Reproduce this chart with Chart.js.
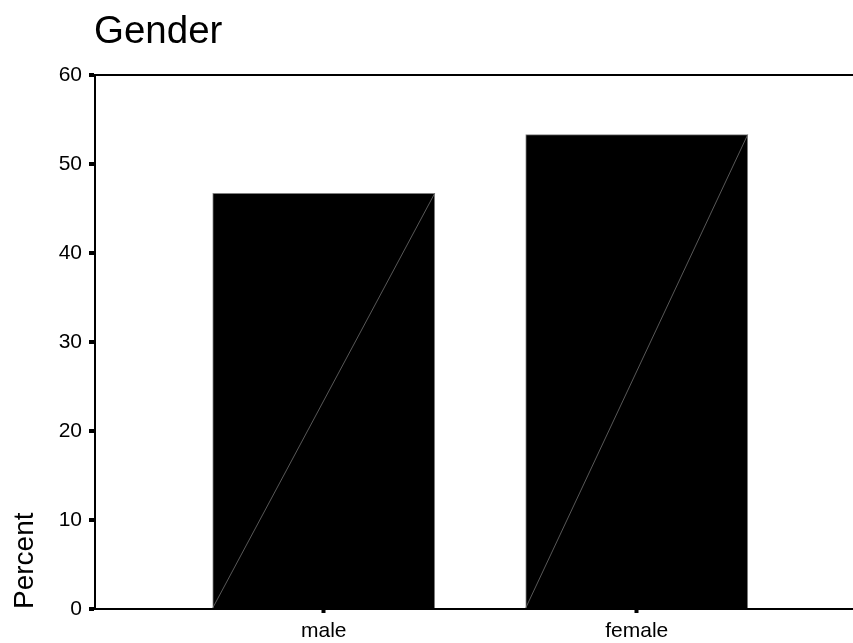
<!DOCTYPE html>
<html>
<head>
<meta charset="utf-8">
<title>Gender</title>
<script src="https://cdn.jsdelivr.net/npm/chart.js@4/dist/chart.umd.min.js"></script>
<style>
  html, body { margin: 0; padding: 0; background: #fff; }
  #wrap { width: 853px; height: 643px; }
</style>
</head>
<body>
<div id="wrap"><canvas id="chart" width="853" height="643"></canvas></div>
<script>
// Gender distribution, percent of respondents
const categories = ['male', 'female'];
const categoryPositions = [1, 2];
const percentValues = [46.7, 53.3];
const yTicks = [0, 10, 20, 30, 40, 50, 60];

const FONT = '"Liberation Sans", Arial, sans-serif';

// Title drawn at the left edge of the plot area
const titlePlugin = {
  id: 'leftTitle',
  afterDraw(chart) {
    const ctx = chart.ctx;
    ctx.save();
    ctx.font = '38.5px ' + FONT;
    ctx.fillStyle = '#000';
    ctx.textBaseline = 'alphabetic';
    ctx.textAlign = 'left';
    ctx.fillText('Gender', chart.chartArea.left - 1, 43);
    ctx.restore();
  }
};

// Thin diagonal stroke across each bar, lower-left to upper-right
const diagonalPlugin = {
  id: 'barDiagonal',
  afterDatasetsDraw(chart) {
    const ctx = chart.ctx;
    ctx.save();
    ctx.strokeStyle = '#6e6e6e';
    ctx.lineWidth = 0.8;
    chart.getDatasetMeta(0).data.forEach(bar => {
      const p = bar.getProps(['x', 'y', 'base', 'width'], true);
      ctx.beginPath();
      ctx.moveTo(p.x - p.width / 2, p.base);
      ctx.lineTo(p.x + p.width / 2, p.y);
      ctx.stroke();
    });
    ctx.restore();
  }
};

new Chart(document.getElementById('chart'), {
  type: 'bar',
  data: {
    datasets: [{
      label: 'Percent',
      data: categoryPositions.map((x, i) => ({ x: x, y: percentValues[i] })),
      backgroundColor: '#000',
      borderColor: '#808080',
      borderWidth: 1,
      barThickness: 222
    }]
  },
  options: {
    responsive: false,
    animation: false,
    devicePixelRatio: 1,
    layout: { padding: { top: 75, right: 0, left: 0, bottom: 0 } },
    plugins: {
      legend: { display: false },
      tooltip: { enabled: false },
      title: { display: false }
    },
    scales: {
      x: {
        type: 'linear',
        offset: false,
        min: 0.2693,
        max: 2.691,
        afterBuildTicks: scale => { scale.ticks = categoryPositions.map(v => ({ value: v })); },
        afterFit: scale => { scale.height = 34; },
        ticks: {
          autoSkip: false,
          maxRotation: 0,
          color: '#000',
          font: { family: FONT, size: 21 },
          padding: 6,
          callback: v => categories[categoryPositions.indexOf(v)] ?? ''
        },
        grid: {
          offset: false,
          drawOnChartArea: false,
          drawTicks: true,
          tickLength: 4,
          tickWidth: 4,
          tickColor: '#000'
        },
        border: { display: true, color: '#000', width: 2 }
      },
      y: {
        min: 0,
        max: 60,
        afterBuildTicks: scale => { scale.ticks = yTicks.map(v => ({ value: v })); },
        afterFit: scale => { scale.width = 95; },
        ticks: {
          color: '#000',
          font: { family: FONT, size: 21 },
          padding: 7
        },
        grid: {
          drawOnChartArea: true,
          color: c => (c.tick && c.tick.value === 60) ? '#000' : 'rgba(0,0,0,0)',
          lineWidth: 2,
          drawTicks: true,
          tickLength: 6,
          tickWidth: 4,
          tickColor: '#000'
        },
        border: { display: true, color: '#000', width: 2 },
        title: {
          display: true,
          text: 'Percent',
          align: 'start',
          color: '#000',
          font: { family: FONT, size: 28 },
          padding: { top: 8, bottom: 0 }
        }
      }
    }
  },
  plugins: [titlePlugin, diagonalPlugin]
});
</script>
</body>
</html>
